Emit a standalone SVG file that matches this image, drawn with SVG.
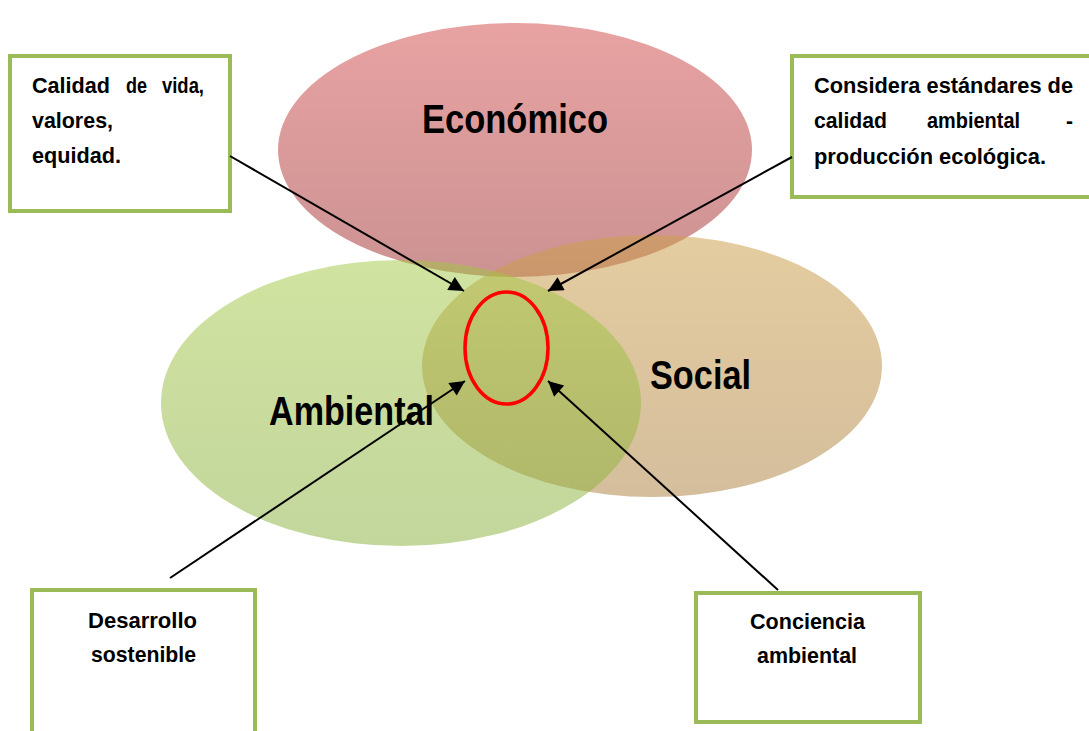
<svg xmlns="http://www.w3.org/2000/svg" width="1089" height="731" viewBox="0 0 1089 731">
<defs>
<linearGradient id="gEco" x1="0" y1="0" x2="0" y2="1"><stop offset="0" stop-color="#E8A2A2"/><stop offset="1" stop-color="#CC9292"/></linearGradient>
<linearGradient id="gSoc" x1="0" y1="0" x2="0" y2="1"><stop offset="0" stop-color="#CCA04B" stop-opacity="0.53"/><stop offset="1" stop-color="#AE8444" stop-opacity="0.53"/></linearGradient>
<linearGradient id="gAmb" x1="0" y1="0" x2="0" y2="1"><stop offset="0" stop-color="#A1C741" stop-opacity="0.5"/><stop offset="1" stop-color="#87AD39" stop-opacity="0.5"/></linearGradient>
<marker id="arr" viewBox="0 0 10 10" refX="10" refY="5" markerWidth="9" markerHeight="7.5" markerUnits="strokeWidth" orient="auto"><path d="M0,0 L10,5 L0,10 z" fill="#000"/></marker>
<style>
.box{fill:#fff;stroke:#9BBB59;stroke-width:4}
.t{font-family:"Liberation Sans",Arial,sans-serif;font-weight:bold;fill:#000}
.bt{font-size:22px}
.big{font-size:41px}
.con{stroke:#000;stroke-width:2;fill:none;marker-end:url(#arr)}
</style>
</defs>
<g id="economico">
<ellipse cx="515" cy="150" rx="237" ry="127" fill="url(#gEco)"/>
<text class="t big" x="422" y="133" textLength="186" lengthAdjust="spacingAndGlyphs">Económico</text>
</g>
<g id="social">
<ellipse cx="652" cy="366" rx="230" ry="131" fill="url(#gSoc)"/>
<text class="t big" x="650" y="389" textLength="101" lengthAdjust="spacingAndGlyphs">Social</text>
</g>
<g id="ambiental">
<ellipse cx="401" cy="403" rx="240" ry="143" fill="url(#gAmb)"/>
<text class="t big" x="269" y="425" textLength="165" lengthAdjust="spacingAndGlyphs">Ambiental</text>
</g>
<g id="centro">
<ellipse cx="506.5" cy="348" rx="41.5" ry="56" fill="none" stroke="#FF0000" stroke-width="3.5"/>
</g>
<g id="box-calidad">
<rect class="box" x="10" y="56" width="220" height="155"/>
<text class="t bt" x="32" y="93" textLength="78" lengthAdjust="spacingAndGlyphs">Calidad</text>
<text class="t bt" x="126" y="93" textLength="21" lengthAdjust="spacingAndGlyphs">de</text>
<text class="t bt" x="162" y="93" textLength="42" lengthAdjust="spacingAndGlyphs">vida,</text>
<text class="t bt" x="32" y="128" textLength="81" lengthAdjust="spacingAndGlyphs">valores,</text>
<text class="t bt" x="32" y="163" textLength="89" lengthAdjust="spacingAndGlyphs">equidad.</text>
</g>
<g id="box-considera">
<rect class="box" x="792" y="56" width="302" height="141"/>
<text class="t bt" x="814" y="93" textLength="259" lengthAdjust="spacingAndGlyphs">Considera estándares de</text>
<text class="t bt" x="814" y="128" textLength="73" lengthAdjust="spacingAndGlyphs">calidad</text>
<text class="t bt" x="927" y="128" textLength="93" lengthAdjust="spacingAndGlyphs">ambiental</text>
<text class="t bt" x="1066" y="128" textLength="7" lengthAdjust="spacingAndGlyphs">-</text>
<text class="t bt" x="814" y="164" textLength="232" lengthAdjust="spacingAndGlyphs">producción ecológica.</text>
</g>
<g id="box-desarrollo">
<rect class="box" x="32" y="590" width="223" height="150"/>
<text class="t bt" x="88" y="628" textLength="109" lengthAdjust="spacingAndGlyphs">Desarrollo</text>
<text class="t bt" x="91" y="662" textLength="105" lengthAdjust="spacingAndGlyphs">sostenible</text>
</g>
<g id="box-conciencia">
<rect class="box" x="696" y="593" width="224" height="129"/>
<text class="t bt" x="750" y="629" textLength="115" lengthAdjust="spacingAndGlyphs">Conciencia</text>
<text class="t bt" x="757" y="663" textLength="100" lengthAdjust="spacingAndGlyphs">ambiental</text>
</g>
<g id="connectors">
<line class="con" x1="230" y1="156" x2="464" y2="291"/>
<line class="con" x1="792" y1="157" x2="548" y2="291"/>
<line class="con" x1="170" y1="578" x2="465" y2="381"/>
<line class="con" x1="778" y1="590" x2="548" y2="381"/>
</g>
</svg>
